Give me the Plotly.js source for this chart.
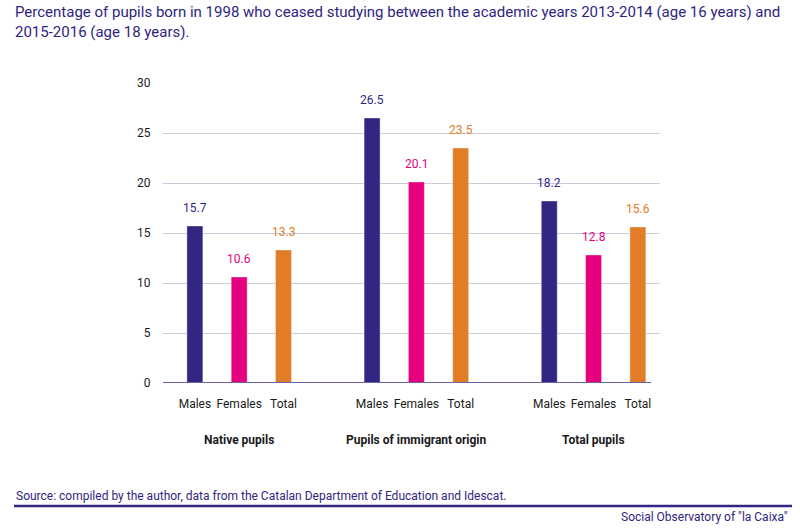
<!DOCTYPE html>
<html>
<head>
<meta charset="utf-8">
<script src="https://cdn.plot.ly/plotly-3.0.1.min.js"></script>
<style>html,body{margin:0;padding:0;background:#fff;}#chart{width:800px;height:532px;}</style>
</head>
<body>
<div id="chart"></div>
<script>
// Data
const groups = ["Native pupils", "Pupils of immigrant origin", "Total pupils"];
const seriesNames = ["Males", "Females", "Total"];
const males = [15.7, 26.5, 18.2];
const females = [10.6, 20.1, 12.8];
const totals = [13.3, 23.5, 15.6];
const yTicks = [0, 5, 10, 15, 20, 25, 30];

const colors = ["#312782", "#e5007e", "#e07d26"];
const seriesValues = [males, females, totals];

// positions: each group occupies slots 0..2, with a gap slot between groups
const positionsFor = (s) => groups.map((g, gi) => gi * 4 + s);

const traces = seriesValues.map((vals, s) => ({
  type: "bar",
  x: positionsFor(s),
  y: vals,
  name: seriesNames[s],
  width: 0.36,
  marker: {color: colors[s], line: {color: "rgba(255,255,255,0.35)", width: 1}},
  hoverinfo: "skip"
}));

const tickvals = [];
const ticktext = [];
groups.forEach((g, gi) => seriesNames.forEach((n, s) => { tickvals.push(gi * 4 + s); ticktext.push(n); }));

const annotations = [];
seriesValues.forEach((vals, s) => {
  vals.forEach((v, gi) => {
    annotations.push({
      x: gi * 4 + s, y: v, xref: "x", yref: "y",
      text: v.toFixed(1), showarrow: false,
      yanchor: "bottom", yshift: 9,
      font: {family: "Roboto, sans-serif", size: 12, color: colors[s]}
    });
  });
});
groups.forEach((g, gi) => {
  annotations.push({
    x: gi * 4 + 1, y: -0.19, xref: "x", yref: "paper",
    text: "<b>" + g + "</b>", showarrow: false, yanchor: "middle",
    font: {family: "Roboto, sans-serif", size: 12, color: "#1a1a1a"}
  });
});
// Title
annotations.push({
  x: -0.3018, y: 1.272, xref: "paper", yref: "paper", xanchor: "left", yanchor: "top", align: "left",
  text: "Percentage of pupils born in 1998 who ceased studying between the academic years 2013-2014 (age 16 years) and<br>2015-2016 (age 18 years).",
  showarrow: false, font: {family: "Roboto, sans-serif", size: 15, color: "#2f2580"}
});
annotations.push({
  x: -0.2998, y: -0.3767, xref: "paper", yref: "paper", xanchor: "left", yanchor: "middle",
  text: "Source: compiled by the author, data from the Catalan Department of Education and Idescat.",
  showarrow: false, font: {family: "Roboto, sans-serif", size: 12, color: "#2f2580"}
});
annotations.push({
  x: 1.2616, y: -0.4467, xref: "paper", yref: "paper", xanchor: "right", yanchor: "middle",
  text: "Social Observatory of \"la Caixa\"",
  showarrow: false, font: {family: "Roboto, sans-serif", size: 12, color: "#2f2580"}
});

const layout = {
  width: 800, height: 532,
  margin: {l: 163, r: 140, t: 83, b: 149},
  paper_bgcolor: "#fff", plot_bgcolor: "#fff",
  showlegend: false,
  barmode: "overlay",
  font: {family: "Roboto, sans-serif", size: 12, color: "#1a1a1a"},
  xaxis: {
    range: [-0.72, 10.5],
    tickvals: tickvals, ticktext: ticktext,
    ticks: "outside", ticklen: 10, tickcolor: "rgba(0,0,0,0)",
    showgrid: false, zeroline: false, showline: false,
    tickfont: {family: "Roboto, sans-serif", size: 12, color: "#1a1a1a"},
    fixedrange: true
  },
  yaxis: {
    range: [0, 30],
    tickvals: yTicks,
    ticks: "outside", ticklen: 9, tickcolor: "rgba(0,0,0,0)",
    showgrid: true, gridcolor: "#cdcbdc", gridwidth: 1,
    zeroline: false, showline: false,
    tickfont: {family: "Roboto, sans-serif", size: 12, color: "#1a1a1a"},
    fixedrange: true
  },
  shapes: [
    {type: "line", xref: "x", yref: "y", x0: -0.72, x1: 10.3, y0: 0, y1: 0,
     line: {color: "#6a62a6", width: 2}},
    {type: "line", xref: "paper", yref: "paper", x0: -0.2998, x1: 1.2656, y0: -0.41, y1: -0.41,
     line: {color: "#312782", width: 2.5}}
  ],
  annotations: annotations
};

Plotly.newPlot("chart", traces, layout, {displayModeBar: false, staticPlot: true});
</script>
</body>
</html>
